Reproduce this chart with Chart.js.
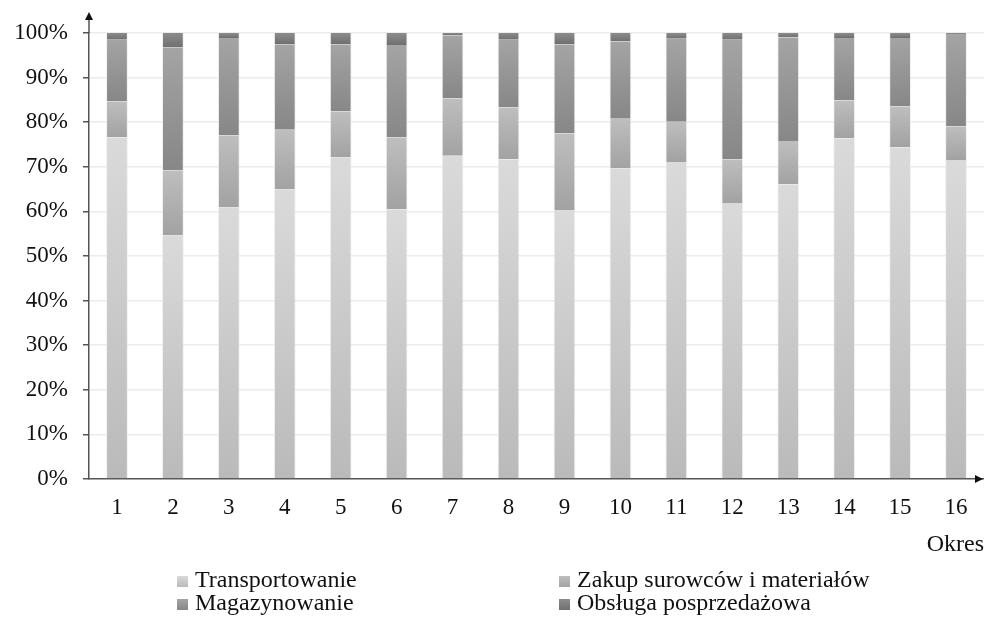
<!DOCTYPE html>
<html>
<head>
<meta charset="utf-8">
<script src="https://cdn.jsdelivr.net/npm/chart.js@4/dist/chart.umd.min.js"></script>
<style>
    body { margin: 0; background: #ffffff; }
    #wrap { position: relative; width: 984px; height: 620px; }
    .legend-item { position: absolute; font: 24px "Liberation Serif", "Times New Roman", serif; line-height: 24px; color: #111111; white-space: nowrap; }
    .legend-box { position: absolute; width: 11px; height: 11px; }
</style>
</head>
<body>
<div id="wrap">
    <canvas id="chart" width="984" height="620"></canvas>
</div>
<script>
// dane (udział w %)
const periods = ['1', '2', '3', '4', '5', '6', '7', '8', '9', '10', '11', '12', '13', '14', '15', '16'];
const transport = [76.6, 54.6, 60.9, 64.9, 72.1, 60.5, 72.5, 71.7, 60.3, 69.6, 71.1, 61.9, 66.1, 76.4, 74.4, 71.5];
const purchase = [8.1, 14.6, 16.1, 13.4, 10.3, 16.1, 12.8, 11.6, 17.2, 11.2, 9.0, 9.8, 9.5, 8.5, 9.1, 7.6];
const storage = [13.8, 27.6, 21.9, 19.2, 15.1, 20.7, 14.2, 15.2, 20.0, 17.3, 18.6, 26.8, 23.4, 14.0, 15.4, 20.7];
const service = [1.5, 3.2, 1.1, 2.5, 2.5, 2.7, 0.5, 1.5, 2.5, 1.9, 1.3, 1.5, 1.0, 1.1, 1.1, 0.2];

const seriesNames = ['Transportowanie', 'Zakup surowców i materiałów', 'Magazynowanie', 'Obsługa posprzedażowa'];
const seriesTop = ['#dadada', '#bebebe', '#a4a4a4', '#8c8c8c'];
const seriesBottom = ['#bababa', '#a2a2a2', '#878787', '#6f6f6f'];
const yTicks = [0, 10, 20, 30, 40, 50, 60, 70, 80, 90, 100];

const FONT = '"Liberation Serif", "Times New Roman", serif';

function segmentGradient(ctx) {
    let chart = ctx.chart;
    let i = ctx.datasetIndex;
    let top = seriesTop[i];
    let bottom = seriesBottom[i];
    let y = chart.scales.y;
    if (!y || ctx.type !== 'data') {
        return bottom;
    }
    let base = 0;
    for (let d = 0; d < i; d++) {
        base += chart.data.datasets[d].data[ctx.dataIndex];
    }
    let v = chart.data.datasets[i].data[ctx.dataIndex];
    let y0 = y.getPixelForValue(base);
    let y1 = y.getPixelForValue(base + v);
    if (!isFinite(y0) || !isFinite(y1) || y0 === y1) {
        return bottom;
    }
    let g = chart.ctx.createLinearGradient(0, y1, 0, y0);
    g.addColorStop(0, top);
    g.addColorStop(1, bottom);
    return g;
}

// strzałki na końcach osi
const axisArrows = {
    id: 'axisArrows',
    afterDraw(chart) {
        let c = chart.ctx;
        let a = chart.chartArea;
        c.save();
        c.strokeStyle = '#555555';
        c.fillStyle = '#111111';
        c.lineWidth = 1.5;
        c.beginPath();
        c.moveTo(a.left, a.top);
        c.lineTo(a.left, 18);
        c.stroke();
        c.beginPath();
        c.moveTo(a.left, 12);
        c.lineTo(a.left - 4, 20);
        c.lineTo(a.left + 4, 20);
        c.closePath();
        c.fill();
        c.beginPath();
        c.moveTo(983, a.bottom);
        c.lineTo(975, a.bottom - 4);
        c.lineTo(975, a.bottom + 4);
        c.closePath();
        c.fill();
        c.restore();
    }
};

const allSeries = [transport, purchase, storage, service];
let datasets = [];
for (let s = 0; s < allSeries.length; s++) {
    datasets.push({
        label: seriesNames[s],
        data: allSeries[s],
        backgroundColor: segmentGradient,
        borderColor: 'rgba(235, 235, 235, 0.7)',
        borderWidth: { left: 1, right: 1, top: 0, bottom: 0 },
        borderSkipped: false,
        barPercentage: 0.39,
        categoryPercentage: 1.0
    });
}

new Chart(document.getElementById('chart'), {
    type: 'bar',
    data: { labels: periods, datasets: datasets },
    options: {
        responsive: false,
        animation: false,
        layout: { padding: { top: 33, right: 0, left: 0, bottom: 0 } },
        plugins: {
            legend: { display: false },
            tooltip: { enabled: false }
        },
        scales: {
            x: {
                stacked: true,
                afterFit: function (scale) { scale.height = 141; },
                grid: { display: false, drawTicks: false },
                border: { display: true, color: '#555555', width: 1.5 },
                ticks: { padding: 15, color: '#111111', font: { family: FONT, size: 23 } },
                title: {
                    display: true,
                    text: 'Okres',
                    align: 'end',
                    color: '#111111',
                    font: { family: FONT, size: 24 },
                    padding: { top: 4, bottom: 61 }
                }
            },
            y: {
                stacked: true,
                min: 0,
                max: 100,
                afterFit: function (scale) { scale.width = 89; },
                afterBuildTicks: function (scale) {
                    let t = [];
                    for (let v = 0; v <= 100; v += 5) t.push({ value: v });
                    scale.ticks = t;
                },
                grid: {
                    color: function (ctx) {
                        if (ctx.tick && yTicks.indexOf(ctx.tick.value) > 0) return '#ececec';
                        return 'rgba(0,0,0,0)';
                    },
                    lineWidth: 1.5,
                    tickColor: '#555555',
                    tickLength: 6,
                    drawTicks: true
                },
                border: { display: true, color: '#555555', width: 1.5 },
                ticks: {
                    padding: 15,
                    color: '#111111',
                    font: { family: FONT, size: 23 },
                    callback: function (value) {
                        return yTicks.indexOf(value) >= 0 ? value + '%' : '';
                    }
                }
            }
        }
    },
    plugins: [axisArrows]
});

// legenda w dwóch kolumnach
const legendPos = [[177, 567], [559, 567], [177, 590], [559, 590]];
let wrap = document.getElementById('wrap');
for (let s = 0; s < seriesNames.length; s++) {
    let box = document.createElement('div');
    box.className = 'legend-box';
    box.style.left = legendPos[s][0] + 'px';
    box.style.top = (legendPos[s][1] + 9) + 'px';
    box.style.background = 'linear-gradient(' + seriesTop[s] + ', ' + seriesBottom[s] + ')';
    wrap.appendChild(box);

    let item = document.createElement('div');
    item.className = 'legend-item';
    item.style.left = (legendPos[s][0] + 18) + 'px';
    item.style.top = legendPos[s][1] + 'px';
    item.innerText = seriesNames[s];
    wrap.appendChild(item);
}
</script>
</body>
</html>
